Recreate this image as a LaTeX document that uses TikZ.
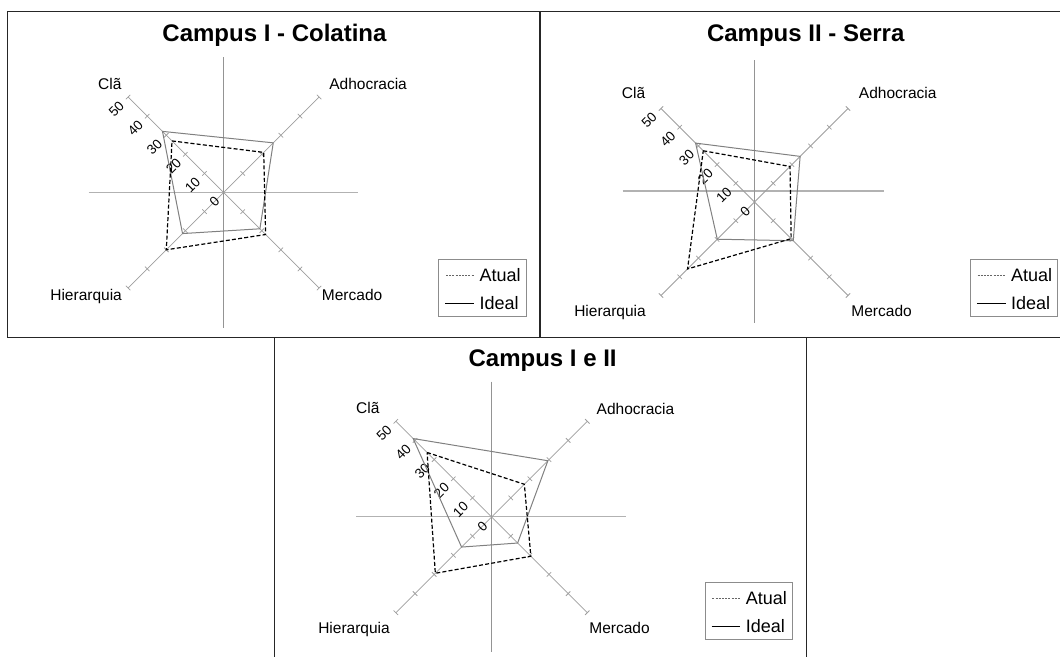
\documentclass[tikz,border=0pt]{standalone}
\usepackage{fontspec}
\setmainfont{Liberation Sans}
\usetikzlibrary{positioning}

\newcommand{\radar}[5]{%
  \begin{scope}[shift={#2}]
    \coordinate (#1) at (0,0);
    \foreach \dx/\dy/\ax in {-1/-1/cla,1/-1/adh,1/1/mer,-1/1/hie} {
      \draw[diag] (#1) -- ({(\dx)*#3},{(\dy)*#3}) coordinate (#1-\ax);
      \foreach \t in {1,...,5}
        \draw[diag] ({\t*(\dx)*#3/5},{\t*(\dy)*#3/5}) +({-(\dy)*2.2},{(\dx)*2.2}) -- +({(\dy)*2.2},{-(\dx)*2.2});
    }
    \foreach \t in {0,...,5}
      \node[ticklabel] (#1-t\t) at ({-\t*#3/5-6},{-\t*#3/5+6}) {\the\numexpr10*\t\relax};
    \pgfmathsetmacro{\k}{#3/50}
    \foreach \c/\a/\m/\h in {#5}
      \draw[ideal] ({-\c*\k},{-\c*\k}) -- ({\a*\k},{-\a*\k}) -- ({\m*\k},{\m*\k}) -- ({-\h*\k},{\h*\k}) -- cycle;
    \foreach \c/\a/\m/\h in {#4}
      \draw[atual] ({-\c*\k},{-\c*\k}) -- ({\a*\k},{-\a*\k}) -- ({\m*\k},{\m*\k}) -- ({-\h*\k},{\h*\k}) -- cycle;
  \end{scope}}

\newcommand{\legenda}[2]{%
  \node[legbox] (#1) at #2 {};
  \coordinate (#1-a) at ([shift={(7.7,15.7)}]#1.north west);
  \coordinate (#1-i) at ([shift={(7,44)}]#1.north west);
  \draw[atualleg] (#1-a) -- ++(28,0) coordinate (#1-a2);
  \draw[idealleg] (#1-i) -- ++(28.7,0) coordinate (#1-i2);
  \node[legtext] (#1-atual) [right=5.3pt of #1-a2] {Atual};
  \node[legtext] (#1-ideal) [right=5.3pt of #1-i2] {Ideal};}

\begin{document}
\begin{tikzpicture}[x=1pt,y=-1pt,
    panel/.style={draw=black!85, line width=1.3pt},
    hline/.style={draw=black!30, line width=1.5pt},
    vline/.style={draw=black!42, line width=0.9pt},
    diag/.style={draw=black!38, line width=0.75pt},
    ideal/.style={draw=black!50, line width=1pt, line join=round},
    atual/.style={draw=black, line width=1.2pt, dash pattern=on 4pt off 2.2pt},
    atualleg/.style={draw=black!60, line width=0.8pt, dash pattern=on 2pt off 1.2pt},
    idealleg/.style={draw=black, line width=0.9pt},
    legbox/.style={draw=black!45, line width=0.8pt, anchor=north west, inner sep=0pt, minimum width=87.5pt, minimum height=57pt},
    legtext/.style={inner sep=0pt, font=\fontsize{18}{18}\selectfont},
    ticklabel/.style={rotate=45, anchor=east, inner sep=0.5pt, font=\fontsize{13.5}{13.5}\selectfont},
    axlabel/.style={anchor=base, inner sep=0pt, font=\fontsize{15.5}{15.5}\selectfont},
    title/.style={anchor=base, inner sep=0pt, font=\fontsize{24}{24}\selectfont\bfseries}]
  \useasboundingbox (0,0) rectangle (1060,656);

  \draw[panel] (7.3,11.7) rectangle (540,337.3);
  \draw[panel] (1061,11.7) -| (540,337.3) -- (1061,337.3);
  \draw[panel] (274.3,657) |- (806.7,337.3) -- (806.7,657);

  \node[title] (colatina) at (274.5,41.7) {Campus I - Colatina};
  \draw[hline] (88.5,192.7) -- (358,192.7);
  \draw[vline] (223.5,57.3) -- (223.5,328.3);
  \radar{c1}{(223.6,192.5)}{95.5}{27/21/22/30}{32/26/19/21.5}
  \node[axlabel] (c1-tcla) at (109.8,89.3) {Clã};
  \node[axlabel] (c1-tadh) at (368.1,89.3) {Adhocracia};
  \node[axlabel] (c1-thie) at (86.1,300.7) {Hierarquia};
  \node[axlabel] (c1-tmer) at (352.1,300.7) {Mercado};
  \legenda{leg1}{(438.3,259.3)}

  \node[title] (serra) at (805.7,41.7) {Campus II - Serra};
  \draw[hline] (622.7,191.2) -- (884,191.2);
  \draw[vline] (754.3,60) -- (754.3,323.3);
  \radar{c2}{(754.5,202)}{93.5}{27.4/19/19.6/35.8}{31.5/24.4/20.7/19.9}
  \node[axlabel] (c2-tcla) at (633.6,98.5) {Clã};
  \node[axlabel] (c2-tadh) at (897.7,98.5) {Adhocracia};
  \node[axlabel] (c2-thie) at (610,316) {Hierarquia};
  \node[axlabel] (c2-tmer) at (881.6,316) {Mercado};
  \legenda{leg2}{(969.8,259.2)}

  \node[title] (ambos) at (542.6,366.7) {Campus I e II};
  \draw[hline] (356,516.7) -- (626.4,516.7);
  \draw[vline] (491.4,381.7) -- (491.4,651.7);
  \radar{c3}{(491.6,517)}{95.7}{33.7/17.1/20.5/29.4}{41/29.4/13.6/15.7}
  \node[axlabel] (c3-tcla) at (367.8,413.3) {Clã};
  \node[axlabel] (c3-tadh) at (635.5,414) {Adhocracia};
  \node[axlabel] (c3-thie) at (354,633.3) {Hierarquia};
  \node[axlabel] (c3-tmer) at (619.5,633.3) {Mercado};
  \legenda{leg3}{(704.6,582.3)}
\end{tikzpicture}
\end{document}
